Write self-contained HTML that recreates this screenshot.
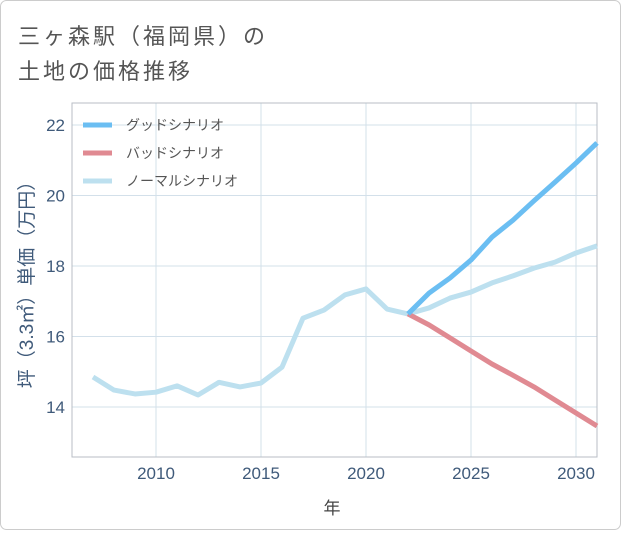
<!DOCTYPE html>
<html><head><meta charset="utf-8"><style>
html,body{margin:0;padding:0;background:#fff;}
body{width:621px;height:530px;overflow:hidden;font-family:"Liberation Sans","Noto Sans CJK JP",sans-serif;}
</style></head><body>
<svg id="chart" width="621" height="530" xmlns="http://www.w3.org/2000/svg" font-family="Liberation Sans, Noto Sans CJK JP, sans-serif">
<rect x="0.5" y="0.5" width="620" height="529" rx="6" fill="#fff" stroke="#ccc"/>
<text x="18" y="44" font-size="22" letter-spacing="3" fill="#555">三ヶ森駅（福岡県）の</text>
<text x="18" y="79" font-size="22" letter-spacing="3" fill="#555">土地の価格推移</text>
<g id="grid"></g>
<rect x="72" y="103" width="525" height="354" fill="none" stroke="#b8bec6" stroke-width="1"/>
<g id="series"></g>
<g id="ticks"></g>
<text x="332" y="514" font-size="17" fill="#444" text-anchor="middle">年</text>
<text transform="translate(33,280) rotate(-90)" font-size="19" fill="#3f5a7a" text-anchor="middle">坪（3.3㎡）単価（万円）</text>
<g>
<line x1="83" y1="125" x2="112" y2="125" stroke="#6bbef2" stroke-width="5"/>
<text x="126" y="130" font-size="14" fill="#555">グッドシナリオ</text>
<line x1="83" y1="153" x2="112" y2="153" stroke="#e08a92" stroke-width="5"/>
<text x="126" y="158" font-size="14" fill="#555">バッドシナリオ</text>
<line x1="83" y1="181" x2="112" y2="181" stroke="#bde0ef" stroke-width="5"/>
<text x="126" y="186" font-size="14" fill="#555">ノーマルシナリオ</text>
</g>
</svg>
<script>
const histYears=[2007,2008,2009,2010,2011,2012,2013,2014,2015,2016,2017,2018,2019,2020,2021,2022];
const histValues=[14.85,14.48,14.37,14.42,14.6,14.34,14.7,14.57,14.68,15.13,16.52,16.75,17.18,17.35,16.78,16.64];
const forecastYears=[2022,2023,2024,2025,2026,2027,2028,2029,2030,2031];
const goodValues=[16.64,17.23,17.66,18.17,18.82,19.3,19.85,20.38,20.92,21.49];
const badValues=[16.64,16.33,15.96,15.59,15.22,14.9,14.57,14.2,13.83,13.46];
const normalValues=[16.64,16.81,17.09,17.26,17.52,17.72,17.94,18.11,18.37,18.57];
const xTicks=[2010,2015,2020,2025,2030];
const yTicks=[14,16,18,20,22];
const NS='http://www.w3.org/2000/svg';
const xS=y=>156+(y-2010)*21;
const yS=v=>407-(v-14)*35.25;
const grid=document.getElementById('grid'),ticks=document.getElementById('ticks'),ser=document.getElementById('series');
function mk(tag,attrs,parent){const e=document.createElementNS(NS,tag);for(const k in attrs)e.setAttribute(k,attrs[k]);parent.appendChild(e);return e;}
xTicks.forEach(t=>{
  const l=mk('line',{x1:xS(t),x2:xS(t),y1:103,y2:457,stroke:'#d3e0ea','stroke-width':1},grid);
  
  
  const tx=mk('text',{x:xS(t),y:479,'font-size':17,fill:'#3f5a7a','text-anchor':'middle'},ticks);
  tx.textContent=t;
  
  
});
yTicks.forEach(t=>{
  const l=mk('line',{x1:72,x2:597,y1:yS(t),y2:yS(t),stroke:'#d3e0ea','stroke-width':1},grid);
  
  
  const tx=mk('text',{x:65,y:yS(t)+6,'font-size':17,fill:'#3f5a7a','text-anchor':'end'},ticks);
  tx.textContent=t;
  
  
});
function line(xs,vs,color,name){
  const p=mk('polyline',{points:xs.map((x,i)=>xS(x)+','+yS(vs[i])).join(' '),fill:'none',stroke:color,'stroke-width':5,'stroke-linejoin':'round'},ser);
  
  
}
line(histYears,histValues,'#bde0ef','historical-line');
line(forecastYears,normalValues,'#bde0ef','normal-scenario-line');
line(forecastYears,badValues,'#e08a92','bad-scenario-line');
line(forecastYears,goodValues,'#6bbef2','good-scenario-line');
</script>
</body></html>
